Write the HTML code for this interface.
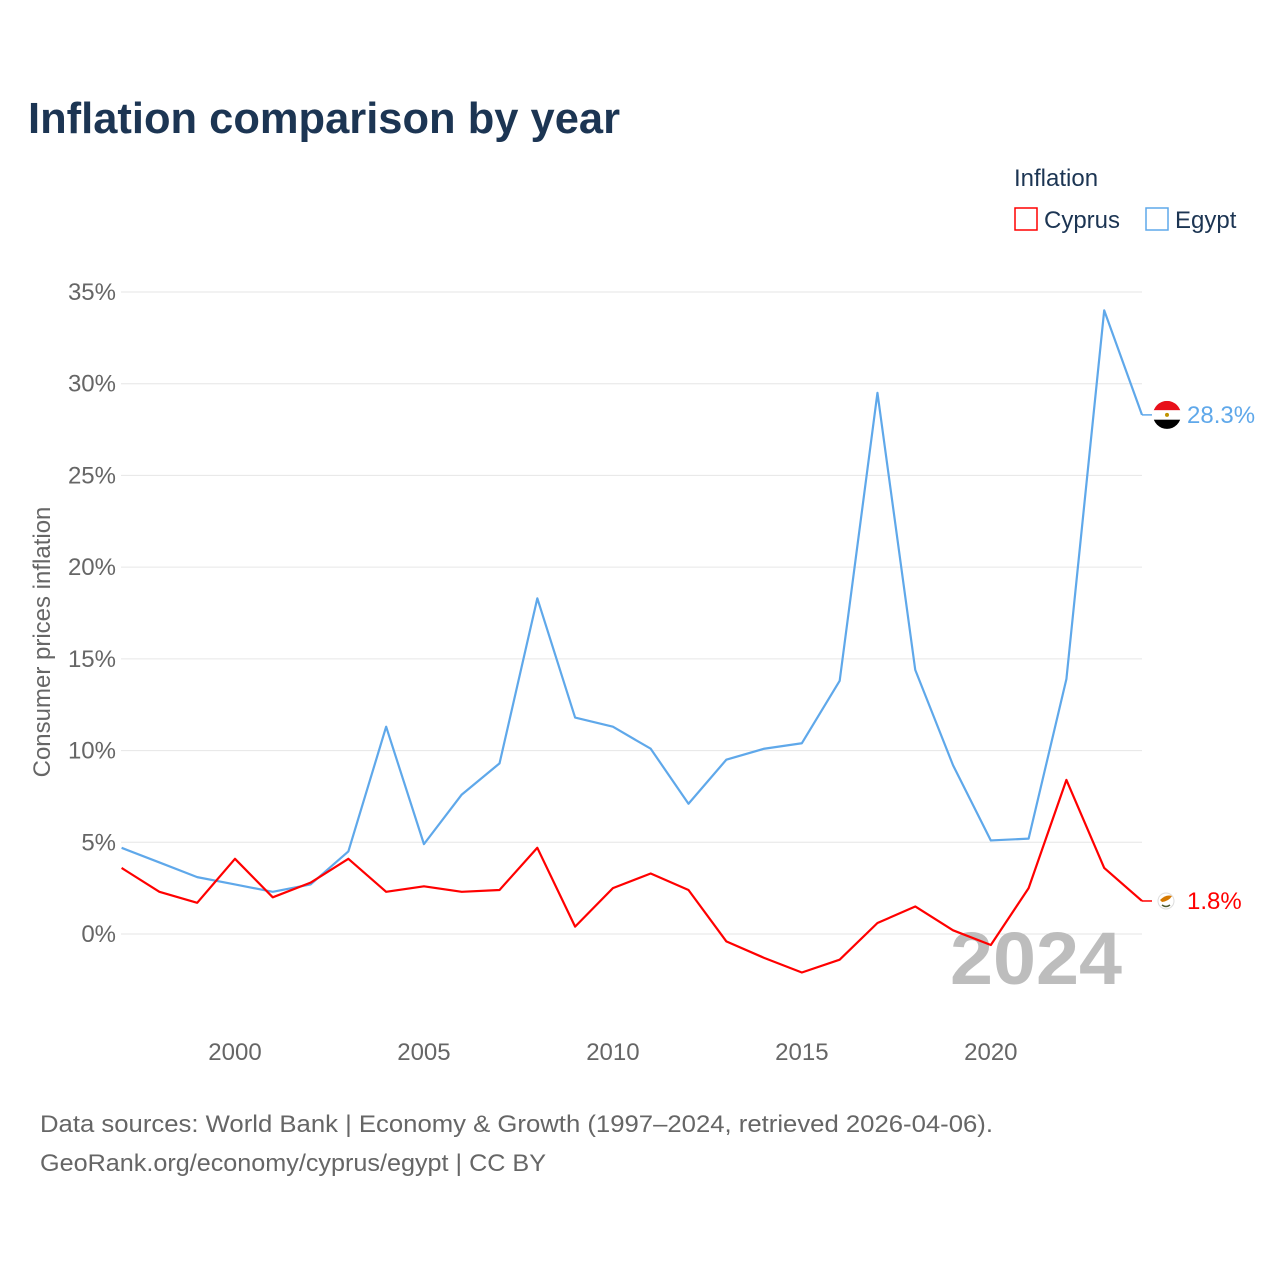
<!DOCTYPE html>
<html><head><meta charset="utf-8"><style>
body{margin:0;background:#fff;font-family:"Liberation Sans",sans-serif;}
svg text{font-family:"Liberation Sans",sans-serif;}
</style></head><body>
<svg id="chart" width="1280" height="1280" viewBox="0 0 1280 1280">
<text x="28" y="133" font-size="44" font-weight="bold" fill="#1c3553" textLength="592" lengthAdjust="spacingAndGlyphs">Inflation comparison by year</text>
<text x="1014" y="186" font-size="24" fill="#1c3553">Inflation</text>
<g><rect x="1015" y="208" width="22" height="22" fill="none" stroke="#ff0000" stroke-width="1.5"/><text x="1044" y="228" font-size="24" fill="#1c3553">Cyprus</text></g>
<g><rect x="1146" y="208" width="22" height="22" fill="none" stroke="#5fa8ea" stroke-width="1.5"/><text x="1175" y="228" font-size="24" fill="#1c3553">Egypt</text></g>
<g id="grid"></g>
<text x="1122" y="984" font-size="74" font-weight="bold" fill="#bdbdbd" text-anchor="end" textLength="172" lengthAdjust="spacingAndGlyphs">2024</text>
<g id="series"></g>
<text transform="translate(50,642) rotate(-90)" font-size="24" fill="#666" text-anchor="middle">Consumer prices inflation</text>
<text x="40" y="1132" font-size="24" fill="#666" textLength="953" lengthAdjust="spacingAndGlyphs">Data sources: World Bank | Economy &amp; Growth (1997–2024, retrieved 2026-04-06).</text>
<text x="40" y="1171" font-size="24" fill="#666" textLength="506" lengthAdjust="spacingAndGlyphs">GeoRank.org/economy/cyprus/egypt | CC BY</text>
</svg>
<script>
const years=[1997,1998,1999,2000,2001,2002,2003,2004,2005,2006,2007,2008,2009,2010,2011,2012,2013,2014,2015,2016,2017,2018,2019,2020,2021,2022,2023,2024];
const egypt=[4.7,3.9,3.1,2.7,2.3,2.7,4.5,11.3,4.9,7.6,9.3,18.3,11.8,11.3,10.1,7.1,9.5,10.1,10.4,13.8,29.5,14.4,9.2,5.1,5.2,13.9,34.0,28.3];
const cyprus=[3.6,2.3,1.7,4.1,2.0,2.8,4.1,2.3,2.6,2.3,2.4,4.7,0.4,2.5,3.3,2.4,-0.4,-1.3,-2.1,-1.4,0.6,1.5,0.2,-0.6,2.5,8.4,3.6,1.8];
const yTicks=[0,5,10,15,20,25,30,35];
const xTicks=[2000,2005,2010,2015,2020];
const NS='http://www.w3.org/2000/svg';
const X=y=>121.6+(y-1997)*(1142-121.6)/27;
const Y=v=>934-v*18.343;
function mk(t,a,p){const e=document.createElementNS(NS,t);for(const k in a)e.setAttribute(k,a[k]);p.appendChild(e);return e;}
const grid=document.getElementById('grid'),ser=document.getElementById('series');
yTicks.forEach(v=>{
 const l=mk('line',{x1:121,x2:1142,y1:Y(v),y2:Y(v),stroke:'#e6e6e6','stroke-width':1},grid);
 
 
 const t=mk('text',{x:116,y:Y(v)+8,'font-size':24,fill:'#666','text-anchor':'end'},grid);t.textContent=v+'%';
 
 
});
xTicks.forEach(v=>{
 const t=mk('text',{x:X(v),y:1060,'font-size':24,fill:'#666','text-anchor':'middle'},grid);t.textContent=v;
 
 
});
function line(vals,col,name,label){
 const pts=vals.map((v,i)=>X(years[i])+','+Y(v)).join(' ');
 const p=mk('polyline',{points:pts,fill:'none',stroke:col,'stroke-width':2.2,'stroke-linejoin':'round'},ser);
 
 
 const last=vals[vals.length-1],yy=Y(last);
 const c=mk('line',{x1:1142,x2:1152,y1:yy,y2:yy,stroke:col,'stroke-width':1.5},ser);
 
 
 const t=mk('text',{x:1187,y:yy+8,'font-size':24,fill:col},ser);t.textContent=label;
 
 
 return yy;
}
const ye=line(egypt,'#5fa8ea','egypt','28.3%');
const yc=line(cyprus,'#ff0000','cyprus','1.8%');
const g1=mk('g',{},ser);


mk('clipPath',{id:'fc'},g1);mk('circle',{cx:1167,cy:ye,r:14},g1.lastChild);
const gg=mk('g',{'clip-path':'url(#fc)'},g1);
mk('rect',{x:1153,y:ye-14,width:28,height:9.4,fill:'#e8101a'},gg);
mk('rect',{x:1153,y:ye-4.6,width:28,height:9.4,fill:'#fff'},gg);
mk('rect',{x:1153,y:ye+4.8,width:28,height:9.4,fill:'#000'},gg);
mk('circle',{cx:1167,cy:ye,r:2,fill:'#c09300'},gg);
const g2=mk('g',{},ser);


mk('circle',{cx:1166,cy:yc,r:8,fill:'#fff',stroke:'#ddd'},g2);
mk('path',{d:`M${1160} ${yc-1} q6 -6 12 -4 q-3 5 -10 6 z`,fill:'#d57800'},g2);
mk('path',{d:`M${1162} ${yc+4} q4 3 8 0`,fill:'none',stroke:'#4e5b31','stroke-width':1.5},g2);
</script>
</body></html>
